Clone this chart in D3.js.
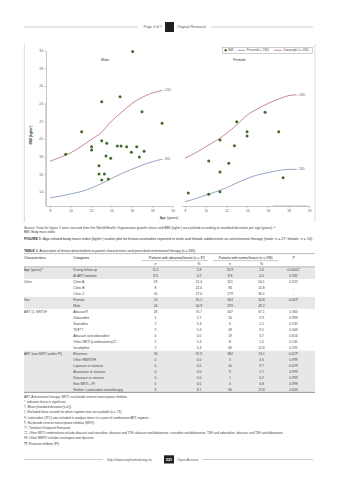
<!DOCTYPE html>
<html><head><meta charset="utf-8">
<script src="https://cdn.jsdelivr.net/npm/d3@7"></script>
<style>html,body{margin:0;padding:0;background:#fff;} svg{display:block;font-family:"Liberation Sans",Arial,sans-serif;}</style>
</head><body>
<svg id="page" width="338" height="480"></svg>
<script>
// ---------- chart data ----------
const xTicks=[8,10,12,14,16,18,20];
const yTicks=[14,16,18,20,22,24,26,28,30];
const maleAge=[16.09,14.85,13.06,17.0,18.96,11.1,13.06,12.07,12.07,13.55,14.59,14.95,15.5,16.48,15.96,17.2,13.48,13.94,16.74,9.54,12.79,12.79,13.32,13.06,13.7];
const maleBMI=[29.9,24.78,24.2,23.08,21.76,20.8,19.79,19.1,18.73,19.49,19.2,19.2,19.1,19.1,18.47,18.58,18.05,17.79,17.94,18.24,16.95,16.0,16.0,15.33,15.44];
const femaleAge=[15.73,12.99,13.99,13.99,17.05,11.38,12.77,10.29,12.22,11.38,17.47,8.32,10.29,11.38];
const femaleBMI=[23.01,21.95,20.81,20.32,20.81,19.87,19.22,17.48,17.22,16.24,15.59,13.85,13.7,14.0];
const maleCurveAge=[8,9,10,11,12,13,14,15,16,17,18,19];
const maleUpper=[17.45,17.9,18.4,19.1,19.9,20.7,22.0,23.0,24.0,24.7,25.2,25.5];
const maleLower=[13.3,13.5,13.75,14.0,14.4,14.9,15.5,16.05,16.55,17.0,17.4,17.7];
const femaleCurveAge=[8,9,10,11,12,13,14,15,16,17,18,18.8];
const femaleUpper=[17.8,18.4,19.1,19.8,20.6,21.6,22.7,23.4,24.0,24.5,24.9,25.0];
const femaleLower=[12.87,13.2,13.62,14.0,14.45,15.0,15.5,15.9,16.16,16.4,16.54,16.54];
const legendLabels=["BMI","Percentile (−2SD)","Overweight (>+1SD)"];

// ---------- table data ----------
const rowCharacteristic=["Age (years)†","","Clinic","","","Sex","","ART (1, NRTI)§","","","","","","","ART (non-NRTI and/or PI)","","","","","",""];
const rowCategory=["During follow-up","At ART initiation","Clinic A","Clinic B","Clinic C","Female","Male","Abacavir¶","Zidovudine","Stavudine","TDF††","Abacavir and zidovudine","Other NRTI (combinations)‡‡","Incomplete","Efavirenz","Other NNRTI§§","Lopinavir or ritonavir","Atazanavir or ritonavir","Darunavir or ritonavir","Non-NRTI + PI","Neither: Lamivudine monotherapy"];
const abnN=["11.5","8.3","19","8","10","13","24","28","1","2","2","0","2","2","34","0","0","0","0","0","3"];
const abnPct=["2.8","4.2","51.4","21.6","27.0","35.1","64.9","75.7","2.7","5.4","5.4","0.0","5.4","5.4","91.9","0.0","0.0","0.0","0.0","0.0","8.1"];
const norN=["13.9","8.8","321","94","179","303","293","347","20","6","49","19","8","66","384","3","50","9","1","4","66"];
const norPct=["2.6","4.0","54.1","15.8","30.1","50.8","49.2","67.1","3.9","1.2","9.5","3.7","1.5","12.8","74.5","0.6","9.7","1.7","0.2","0.8","12.8"];
const pVal=["<0.0001*","0.331","0.522","-","-","0.043*","-","0.363","0.999","0.135","0.563","0.616","0.135","0.291","0.019*","0.999","0.029*","0.999","0.999","0.999","0.603"];
const shadedGroups=[[0,2],[5,7],[14,21]];
const footnotes=[
"ART, Antiretroviral therapy; NRTI, nucleoside reverse transcriptase inhibitor.",
"*, indicates that p is significant.",
"†, Mean (standard deviation [s.d.]).",
"‡, Excluded those records for which regimen was not available (n = 73).",
"§, Lamivudine (3TC) was included in analysis when it is a part of combination ART regimen.",
"¶, Nucleoside reverse transcriptase inhibitor (NRTI).",
"††, Tenofovir Disoproxil Fumarate.",
"‡‡, Other NRTI combinations include abacavir and stavudine, abacavir and TDF, abacavir and didanosine, stavudine and didanosine, TDF and zidovudine, abacavir and TDF and didanosine.",
"§§, Other NNRTI includes nevirapine and rilpivirine.",
"¶¶, Protease inhibitor (PI)."
];

const svg=d3.select("#page");
svg.append("rect").attr("width",338).attr("height",480).attr("fill","#fff");
const gray="#999";

// ---------- page header / footer ----------
function hline(x1,x2,y,c,w){svg.append("line").attr("x1",x1).attr("x2",x2).attr("y1",y).attr("y2",y).attr("stroke",c||gray).attr("stroke-width",w||0.5);}
hline(24,138,27);
svg.append("text").attr("x",162).attr("y",28.4).attr("text-anchor","end").attr("font-size",3.6).attr("fill","#555").text("Page 4 of 7");
svg.append("rect").attr("x",165).attr("y",22).attr("width",9).attr("height",10).attr("fill","#231f20");
svg.append("text").attr("x",177).attr("y",28.4).attr("font-size",3.6).attr("fill","#555").text("Original Research");
hline(211,313,27);

hline(24,103,459.5);
svg.append("text").attr("x",107).attr("y",460.8).attr("font-size",3.6).attr("fill","#555").text("http://www.sajhivmed.org.za");
svg.append("rect").attr("x",164).attr("y",455.3).attr("width",10).attr("height",8.2).attr("fill","#231f20");
svg.append("text").attr("x",169).attr("y",460.8).attr("text-anchor","middle").attr("font-size",3.8).attr("font-weight","bold").attr("fill","#fff").text("321");
svg.append("text").attr("x",177).attr("y",460.8).attr("font-size",3.6).attr("fill","#555").text("Open Access");
hline(203,313,459.5);

// ---------- figure ----------
svg.append("line").attr("x1",24.3).attr("x2",24.3).attr("y1",44).attr("y2",222).attr("stroke","#b5b5b5").attr("stroke-width",0.5);
svg.append("line").attr("x1",315).attr("x2",315).attr("y1",44).attr("y2",222).attr("stroke","#b5b5b5").attr("stroke-width",0.5);

const y=d3.scaleLinear().domain([12.38,30]).range([206,50.7]);
const xM=d3.scaleLinear().domain([7.6,20]).range([45.9,172.7]);
const xF=d3.scaleLinear().domain([7.68,20]).range([181.7,309.3]);
const green="#416b2b", red="#9b3b55", blue="#51699c";

function styleAxis(g){
  g.selectAll("path.domain").attr("stroke","#8a8a8a").attr("stroke-width",0.5);
  g.selectAll(".tick line").attr("stroke","#8a8a8a").attr("stroke-width",0.4);
  g.selectAll(".tick text").attr("font-size",3.2).attr("fill","#555").attr("font-family","Liberation Sans, Arial, sans-serif");
}
const gy=svg.append("g").attr("transform","translate(45.9,0)").call(d3.axisLeft(y).tickValues(yTicks).tickSize(1.8).tickPadding(1.2).tickSizeOuter(0));
styleAxis(gy);
svg.append("line").attr("x1",45.9).attr("x2",45.9).attr("y1",103).attr("y2",206).attr("stroke","#c4c4c4").attr("stroke-width",1.1);

const gxM=svg.append("g").attr("transform","translate(0,206)").call(d3.axisBottom(xM).tickValues(xTicks).tickSize(1.8).tickPadding(1.6).tickSizeOuter(0));
styleAxis(gxM);
const gxF=svg.append("g").attr("transform","translate(0,206)").call(d3.axisBottom(xF).tickValues(xTicks).tickSize(1.8).tickPadding(1.6).tickSizeOuter(0));
styleAxis(gxF);
svg.append("line").attr("x1",273).attr("x2",307).attr("y1",206).attr("y2",206).attr("stroke","#bdbdbd").attr("stroke-width",1.1);

// curves
function curve(x,ages,vals,color){
  const line=d3.line().x(d=>x(d[0])).y(d=>y(d[1])).curve(d3.curveMonotoneX);
  svg.append("path").attr("d",line(ages.map((a,i)=>[a,vals[i]]))).attr("fill","none").attr("stroke",color).attr("stroke-width",0.6);
}
curve(xM,maleCurveAge,maleUpper,red);
curve(xM,maleCurveAge,maleLower,blue);
curve(xF,femaleCurveAge,femaleUpper,red);
curve(xF,femaleCurveAge,femaleLower,blue);
function clabel(x,ages,vals,t){
  const n=ages.length-1;
  svg.append("text").attr("x",x(ages[n])+1.2).attr("y",y(vals[n])+1).attr("font-size",2.9).attr("fill","#666").text(t);
}
clabel(xM,maleCurveAge,maleUpper,"+1SD");
clabel(xM,maleCurveAge,maleLower,"-2SD");
clabel(xF,femaleCurveAge,femaleUpper,"+1SD");
clabel(xF,femaleCurveAge,femaleLower,"-2SD");

// points
svg.append("g").selectAll("circle").data(maleAge.map((a,i)=>[a,maleBMI[i]])).join("circle")
  .attr("cx",d=>xM(d[0])).attr("cy",d=>y(d[1])).attr("r",1.5).attr("fill",green);
svg.append("g").selectAll("circle").data(femaleAge.map((a,i)=>[a,femaleBMI[i]])).join("circle")
  .attr("cx",d=>xF(d[0])).attr("cy",d=>y(d[1])).attr("r",1.5).attr("fill",green);

// titles
svg.append("text").attr("x",105).attr("y",60.7).attr("text-anchor","middle").attr("font-size",3.7).attr("fill","#333").text("Male");
svg.append("text").attr("x",239.5).attr("y",61.2).attr("text-anchor","middle").attr("font-size",3.7).attr("fill","#333").text("Female");
svg.append("text").attr("transform","translate(32,135) rotate(-90)").attr("text-anchor","middle").attr("font-size",3.5).attr("font-weight","bold").attr("fill","#444").text("BMI (kg/m²)");
svg.append("text").attr("x",169).attr("y",218.5).attr("text-anchor","middle").attr("font-size",3.6).attr("fill","#333").text("Age (years)");

// legend
svg.append("rect").attr("x",222.7).attr("y",47.3).attr("width",89.6).attr("height",6).attr("fill","#fff").attr("stroke","#888").attr("stroke-width",0.4);
svg.append("circle").attr("cx",225.7).attr("cy",50.3).attr("r",1.2).attr("fill",green);
svg.append("text").attr("x",228.3).attr("y",51.4).attr("font-size",2.8).attr("fill","#444").text(legendLabels[0]);
svg.append("line").attr("x1",237.7).attr("x2",245).attr("y1",50.3).attr("y2",50.3).attr("stroke",blue).attr("stroke-width",0.6);
svg.append("text").attr("x",246.8).attr("y",51.4).attr("font-size",2.8).attr("fill","#444").text(legendLabels[1]);
svg.append("line").attr("x1",274).attr("x2",281.7).attr("y1",50.3).attr("y2",50.3).attr("stroke",red).attr("stroke-width",0.6);
svg.append("text").attr("x",283.3).attr("y",51.4).attr("font-size",2.8).attr("fill","#444").text(legendLabels[2]);

// captions
svg.append("text").attr("x",24).attr("y",229.3).attr("font-size",3.1).attr("fill","#444").attr("textLength",251).attr("lengthAdjust","spacingAndGlyphs")
  .text("Source: Data for figure 1 were sourced from the World Health Organization growth charts and BMI (kg/m²) was plotted according to standard deviation per age (years).²⁰");
svg.append("text").attr("x",24).attr("y",233.4).attr("font-size",3.1).attr("fill","#444").text("BMI, Body mass index.");
const cap=svg.append("text").attr("x",24).attr("y",239.8).attr("font-size",3.3).attr("fill","#333").attr("textLength",289).attr("lengthAdjust","spacingAndGlyphs");
cap.append("tspan").attr("font-weight","bold").text("FIGURE 1: ");
cap.append("tspan").text("Age-related body mass index (kg/m²) scatter plot for breast anomalies reported in male and female adolescents on antiretroviral therapy (male: n = 27; female: n = 14).");

// ---------- table ----------
const tt=svg.append("text").attr("x",24).attr("y",252.2).attr("font-size",3.3).attr("fill","#333");
tt.append("tspan").attr("font-weight","bold").text("TABLE 1: ");
tt.append("tspan").text("Association of breast abnormalities to patient characteristics and prescribed antiretroviral therapy (n = 633).");
hline(24,315,253.6,"#555",0.4);

const colX={n1:155.5,p1:199,n2:230,p2:261.5,p:293.5};
const rowY=i=>270+i*5.97;
shadedGroups.forEach(([a,b])=>{
  svg.append("rect").attr("x",24).attr("y",rowY(a)-3).attr("width",291).attr("height",(b-a)*5.97).attr("fill","#e7e7e7");
});
function tx(x,yv,t,anchor,opts){
  const e=svg.append("text").attr("x",x).attr("y",yv).attr("font-size",3.3).attr("fill",(opts&&opts.fill)||"#444").attr("text-anchor",anchor||"start").text(t);
  if(opts&&opts.italic) e.attr("font-style","italic");
  return e;
}
tx(24,258.8,"Characteristics","start",{fill:"#222"});
tx(73.3,258.8,"Categories","start",{fill:"#222"});
tx(177,258.8,"Patients with abnormal breast (n = 37)","middle",{fill:"#222"});
tx(245.7,258.8,"Patients with normal breast (n = 596)","middle",{fill:"#222"});
tx(colX.p,258.8,"P","middle",{fill:"#222",italic:true});
hline(142,208,260.6,"#666",0.35);
hline(213,278,260.6,"#666",0.35);
tx(colX.n1,264.8,"n","middle",{fill:"#222",italic:true});
tx(colX.p1,264.8,"%","middle",{fill:"#222"});
tx(colX.n2,264.8,"n","middle",{fill:"#222",italic:true});
tx(colX.p2,264.8,"%","middle",{fill:"#222"});
hline(24,315,266.8,"#555",0.4);

rowCategory.forEach((c,i)=>{
  const yy=rowY(i)+1.15;
  if(rowCharacteristic[i]) tx(24,yy,rowCharacteristic[i]);
  tx(73.3,yy,c);
  tx(colX.n1,yy,abnN[i],"middle");
  tx(colX.p1,yy,abnPct[i],"middle");
  tx(colX.n2,yy,norN[i],"middle");
  tx(colX.p2,yy,norPct[i],"middle");
  tx(colX.p,yy,pVal[i],"middle");
});
hline(24,315,rowY(20)+3,"#555",0.6);

footnotes.forEach((f,i)=>{
  svg.append("text").attr("x",24).attr("y",397.8+i*5.2).attr("font-size",3.1).attr("fill","#444").text(f);
});
</script>
</body></html>
